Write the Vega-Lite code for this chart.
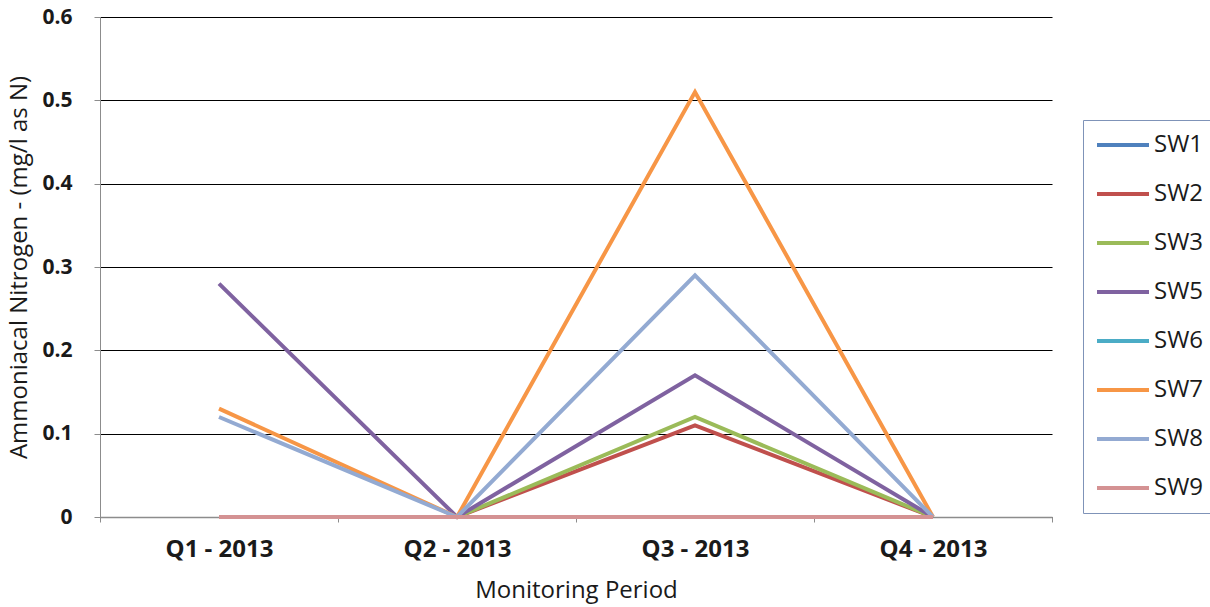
{
  "$schema": "https://vega.github.io/schema/vega-lite/v6.json",
  "width": 952,
  "height": 500,
  "autosize": {"type": "none"},
  "padding": {"left": 100, "top": 17, "right": 158, "bottom": 90},
  "background": "white",
  "config": {
    "view": {"stroke": null},
    "font": "Open Sans"
  },
  "data": {
    "values": [
      {"period": "Q1 - 2013", "site": "SW1", "value": 0},
      {"period": "Q2 - 2013", "site": "SW1", "value": 0},
      {"period": "Q3 - 2013", "site": "SW1", "value": 0},
      {"period": "Q4 - 2013", "site": "SW1", "value": 0},
      {"period": "Q1 - 2013", "site": "SW2", "value": 0},
      {"period": "Q2 - 2013", "site": "SW2", "value": 0},
      {"period": "Q3 - 2013", "site": "SW2", "value": 0.11},
      {"period": "Q4 - 2013", "site": "SW2", "value": 0},
      {"period": "Q1 - 2013", "site": "SW3", "value": 0},
      {"period": "Q2 - 2013", "site": "SW3", "value": 0},
      {"period": "Q3 - 2013", "site": "SW3", "value": 0.12},
      {"period": "Q4 - 2013", "site": "SW3", "value": 0},
      {"period": "Q1 - 2013", "site": "SW5", "value": 0.28},
      {"period": "Q2 - 2013", "site": "SW5", "value": 0},
      {"period": "Q3 - 2013", "site": "SW5", "value": 0.17},
      {"period": "Q4 - 2013", "site": "SW5", "value": 0},
      {"period": "Q1 - 2013", "site": "SW6", "value": 0},
      {"period": "Q2 - 2013", "site": "SW6", "value": 0},
      {"period": "Q3 - 2013", "site": "SW6", "value": 0},
      {"period": "Q4 - 2013", "site": "SW6", "value": 0},
      {"period": "Q1 - 2013", "site": "SW7", "value": 0.13},
      {"period": "Q2 - 2013", "site": "SW7", "value": 0},
      {"period": "Q3 - 2013", "site": "SW7", "value": 0.51},
      {"period": "Q4 - 2013", "site": "SW7", "value": 0},
      {"period": "Q1 - 2013", "site": "SW8", "value": 0.12},
      {"period": "Q2 - 2013", "site": "SW8", "value": 0},
      {"period": "Q3 - 2013", "site": "SW8", "value": 0.29},
      {"period": "Q4 - 2013", "site": "SW8", "value": 0},
      {"period": "Q1 - 2013", "site": "SW9", "value": 0},
      {"period": "Q2 - 2013", "site": "SW9", "value": 0},
      {"period": "Q3 - 2013", "site": "SW9", "value": 0},
      {"period": "Q4 - 2013", "site": "SW9", "value": 0}
    ]
  },
  "mark": {"type": "line", "strokeWidth": 4, "strokeCap": "butt", "strokeJoin": "miter"},
  "encoding": {
    "x": {
      "field": "period",
      "type": "nominal",
      "sort": null,
      "scale": {"type": "band", "paddingInner": 0, "paddingOuter": 0},
      "axis": {
        "title": "Monitoring Period",
        "titleFont": "Open Sans",
        "titleFontSize": 24,
        "titleFontWeight": "normal",
        "titleColor": "#1a1a1a",
        "titlePadding": 17,
        "labelAngle": 0,
        "labelFont": "Open Sans",
        "labelFontSize": 24,
        "labelFontWeight": "bold",
        "labelColor": "#1a1a1a",
        "labelPadding": 15,
        "tickBand": "extent",
        "tickSize": 5,
        "tickColor": "#8c8c8c",
        "domainColor": "#8c8c8c",
        "domainWidth": 1.5,
        "grid": false
      }
    },
    "y": {
      "field": "value",
      "type": "quantitative",
      "scale": {"domain": [0, 0.6], "nice": false},
      "axis": {
        "title": "Ammoniacal Nitrogen - (mg/l as N)",
        "titleFont": "Open Sans",
        "titleFontSize": 24,
        "titleFontWeight": "normal",
        "titleColor": "#1a1a1a",
        "titlePadding": 10,
        "values": [0, 0.1, 0.2, 0.3, 0.4, 0.5, 0.6],
        "labelExpr": "datum.value == 0 ? '0' : format(datum.value, '.1f')",
        "labelFont": "Open Sans",
        "labelFontSize": 21,
        "labelFontWeight": "bold",
        "labelColor": "#1a1a1a",
        "labelPadding": 22,
        "tickSize": 6,
        "tickColor": "#8c8c8c",
        "domainColor": "#8c8c8c",
        "grid": true,
        "gridColor": "#000000",
        "gridWidth": 1.2
      }
    },
    "color": {
      "field": "site",
      "type": "nominal",
      "scale": {
        "domain": ["SW1", "SW2", "SW3", "SW5", "SW6", "SW7", "SW8", "SW9"],
        "range": ["#4F81BD", "#C0504D", "#9BBB59", "#7F62A0", "#4BACC6", "#F79646", "#93AAD2", "#D49293"]
      },
      "legend": {
        "title": null,
        "orient": "none",
        "legendX": 983,
        "legendY": 103,
        "direction": "vertical",
        "symbolType": "M-1,0H1",
        "symbolSize": 2704,
        "symbolStrokeWidth": 4,
        "clipHeight": 26,
        "labelFont": "Open Sans",
        "labelFontSize": 24,
        "labelColor": "#1a1a1a",
        "labelOffset": 3,
        "rowPadding": 23,
        "padding": 12,
        "strokeColor": "#7F93B8",
        "fillColor": "white",
        "cornerRadius": 0
      }
    }
  }
}
